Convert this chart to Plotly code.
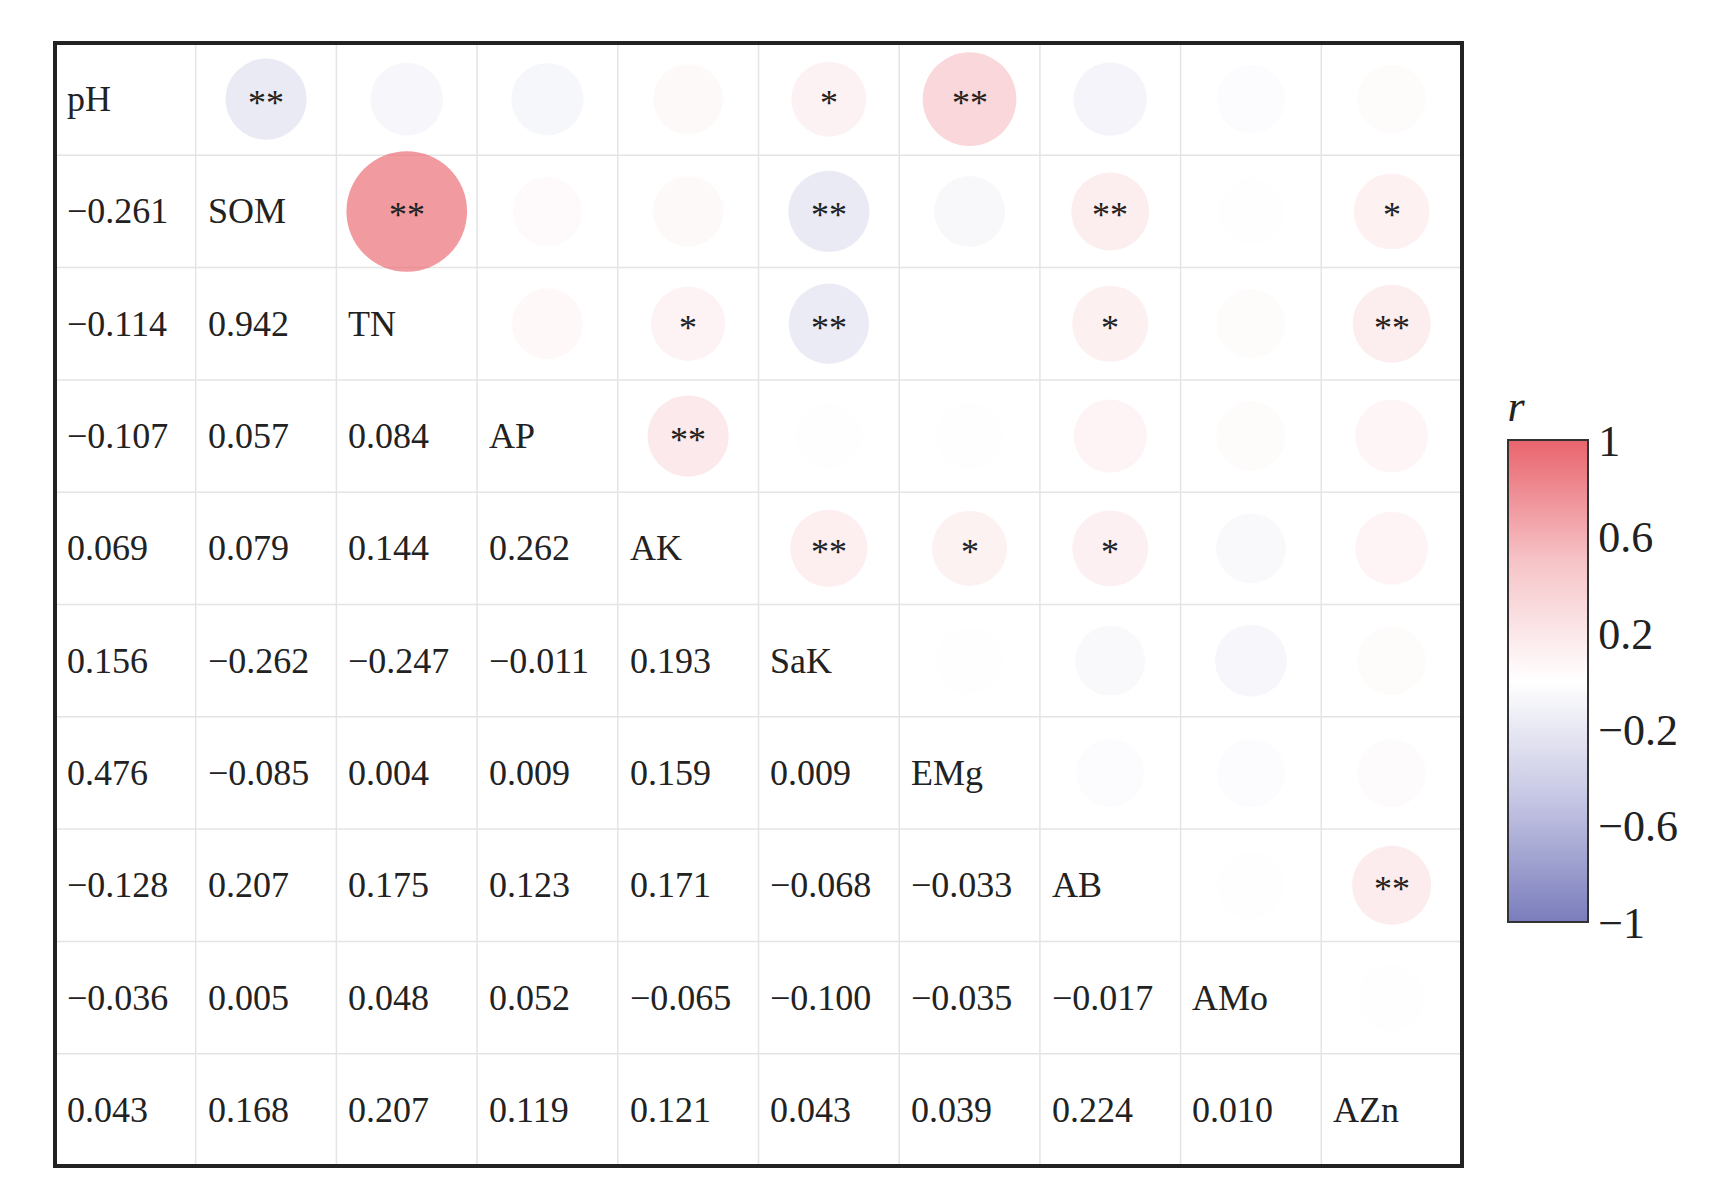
#!/usr/bin/env python3
import plotly.graph_objects as go


names = ["pH", "SOM", "TN", "AP", "AK", "SaK", "EMg", "AB", "AMo", "AZn"]

lower = [
    [],
    [-0.261],
    [-0.114, 0.942],
    [-0.107, 0.057, 0.084],
    [0.069, 0.079, 0.144, 0.262],
    [0.156, -0.262, -0.247, -0.011, 0.193],
    [0.476, -0.085, 0.004, 0.009, 0.159, 0.009],
    [-0.128, 0.207, 0.175, 0.123, 0.171, -0.068, -0.033],
    [-0.036, 0.005, 0.048, 0.052, -0.065, -0.100, -0.035, -0.017],
    [0.043, 0.168, 0.207, 0.119, 0.121, 0.043, 0.039, 0.224, 0.010],
]

stars = {
    (0, 1): "**", (0, 5): "*", (0, 6): "**",
    (1, 2): "**", (1, 5): "**", (1, 7): "**", (1, 9): "*",
    (2, 4): "*", (2, 5): "**", (2, 7): "*", (2, 9): "**",
    (3, 4): "**",
    (4, 5): "**", (4, 6): "*", (4, 7): "*",
    (7, 9): "**",
}


def plot():
    """Draws the correlation matrix with circles above the diagonal"""
    xs, ys, rs = [], [], []
    for i in range(10):
        for j in range(i):
            xs.append(i)
            ys.append(j)
            rs.append(lower[i][j])

    fig = go.Figure(go.Scatter(
        x=xs, y=ys, mode="markers",
        marker={'size': [66 + 58 * abs(r) for r in rs], 'color': rs,
                'cmin': -1, 'cmax': 1,
                'colorscale': [[0, "#7a7dbc"], [0.25, "#c4c5e3"], [0.5, "#ffffff"],
                               [0.75, "#f6c3c7"], [1, "#e9646d"]],
                'line': {'width': 0},
                'colorbar': {'xref': "container", 'yref': "paper",
                             'x': 0.861, 'xanchor': "left",
                             'y': 0.208, 'yanchor': "bottom",
                             'len': 0.495, 'lenmode': "fraction",
                             'thickness': 80, 'outlinecolor': "#333",
                             'outlinewidth': 2, 'ticks': "",
                             'tickvals': [1, 0.6, 0.2, -0.2, -0.6, -1],
                             'ticktext': ["1", "0.6", "0.2", "−0.2", "−0.6", "−1"],
                             'tickfont': {'size': 44, 'color': "#222"},
                             'title': {'text': "<i>r</i>", 'side': "top",
                                       'font': {'size': 44, 'color': "#222"}}}},
        hoverinfo="skip"))

    ann = []
    for i in range(10):
        ann.append(dict(x=i - 0.43, y=i, text=names[i], xanchor="left"))
        for j in range(i):
            txt = "{:.3f}".format(lower[i][j]).replace("-", "−")
            ann.append(dict(x=j - 0.43, y=i, text=txt, xanchor="left"))
    for (i, j), s in stars.items():
        ann.append(dict(x=j, y=i, text=s, xanchor="center", yshift=-4))
    for a in ann:
        a.update(showarrow=False, font={'size': 36, 'color': "#222"})

    shapes = []
    for k in range(1, 10):
        shapes.append(dict(type="line", x0=k - 0.5, x1=k - 0.5, y0=-0.5, y1=9.5,
                           line={'color': "#e4e4e4", 'width': 1.5}, layer="below"))
        shapes.append(dict(type="line", y0=k - 0.5, y1=k - 0.5, x0=-0.5, x1=9.5,
                           line={'color': "#e4e4e4", 'width': 1.5}, layer="below"))
    shapes.append(dict(type="rect", xref="paper", yref="paper", x0=0, x1=1, y0=0, y1=1,
                       line={'color': "#222", 'width': 4}))

    fig.update_layout(
        width=1731, height=1188,
        margin={'l': 47, 't': 35, 'b': 30, 'r': 277},
        plot_bgcolor="white", paper_bgcolor="white",
        font={'family': "Liberation Serif"},
        xaxis={'range': [-0.5, 9.5], 'visible': False},
        yaxis={'range': [9.5, -0.5], 'visible': False},
        annotations=ann, shapes=shapes, showlegend=False)

    fig.write_html("out.html")


if __name__ == "__main__":
    plot()
